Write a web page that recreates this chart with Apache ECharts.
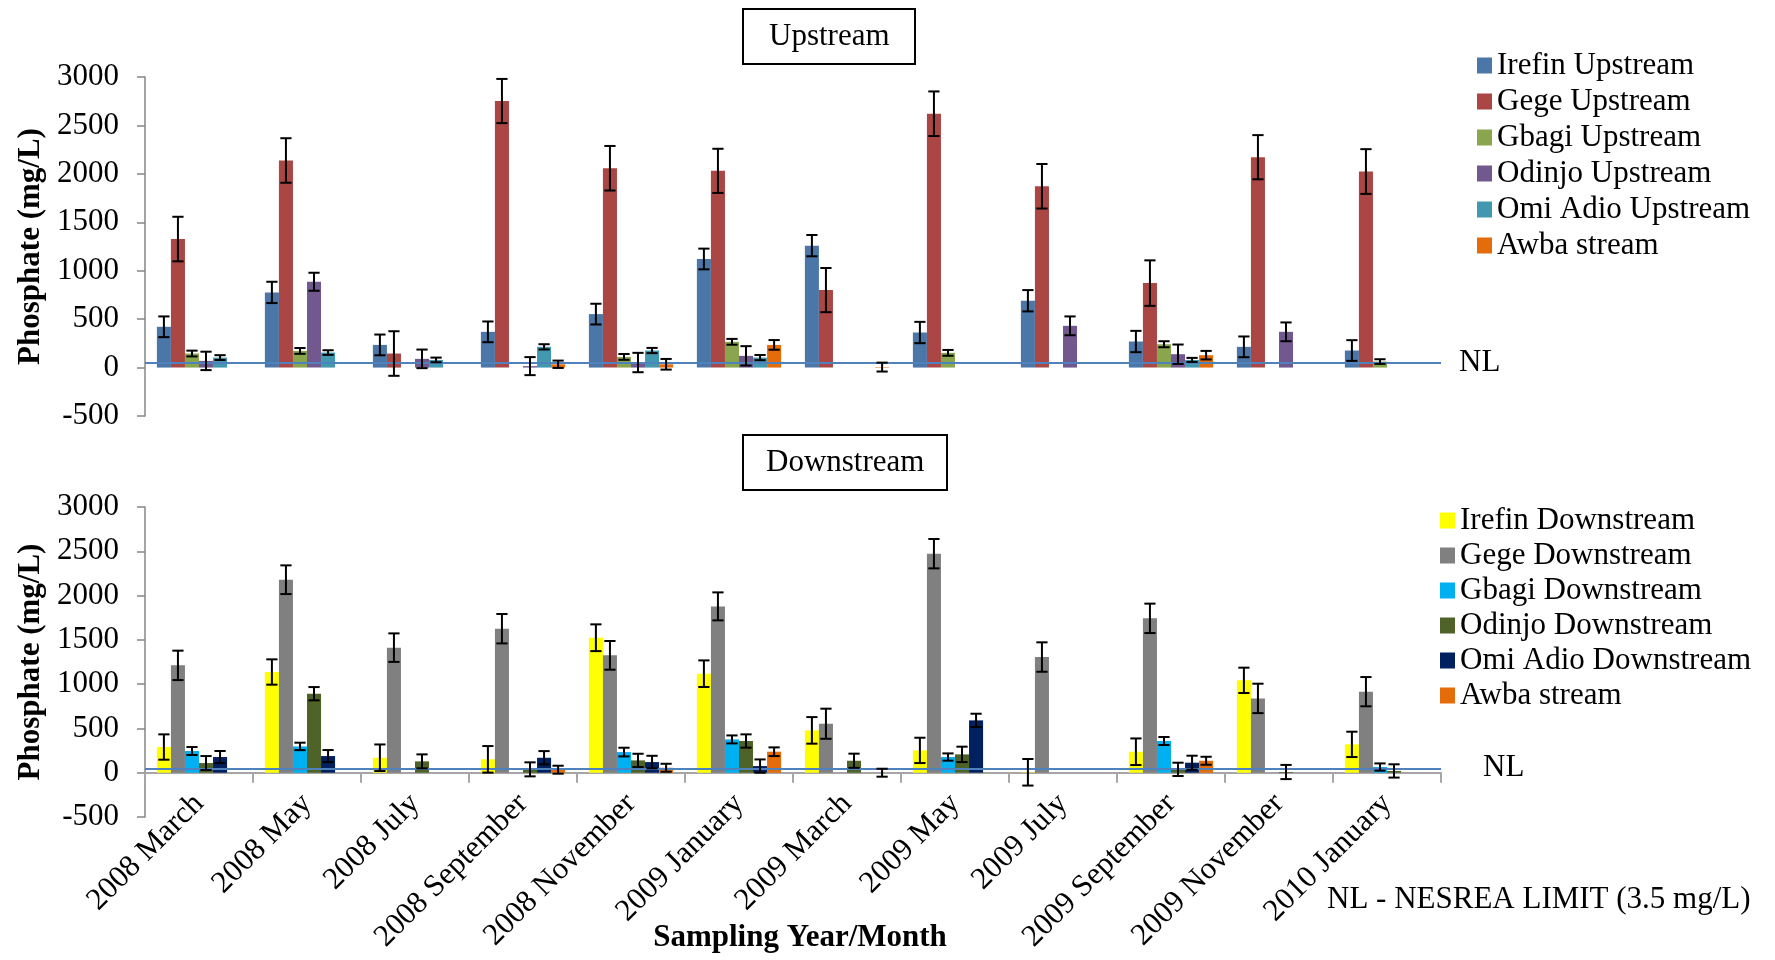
<!DOCTYPE html>
<html>
<head>
<meta charset="utf-8">
<script src="https://cdn.jsdelivr.net/npm/echarts/dist/echarts.min.js"></script>
<style>
html,body{margin:0;padding:0;background:#fff;}
#chart{width:1775px;height:960px;}
</style>
</head>
<body>
<div id="chart"></div>
<script>
const categories = ['2008 March','2008 May','2008 July','2008 September','2008 November','2009 January','2009 March','2009 May','2009 July','2009 September','2009 November','2010 January'];
const yTicks = [-500, 0, 500, 1000, 1500, 2000, 2500, 3000];
const nlValue = 50;

const upNames = ['Irefin Upstream','Gege Upstream','Gbagi Upstream','Odinjo Upstream','Omi Adio Upstream','Awba stream'];
const upIrefin = [421, 776, 234, 369, 552, 1121, 1259, 362, 690, 269, 214, 176];
const upIrefinErr = [107, 110, 107, 107, 107, 107, 110, 110, 110, 110, 107, 107];
const upGege = [1327, 2138, 145, 2752, 2058, 2031, 800, 2621, 1872, 872, 2172, 2024];
const upGegeErr = [230, 230, 230, 228, 230, 228, 228, 230, 230, 235, 228, 231];
const upGbagi = [145, 172, null, null, 110, 266, null, 152, null, 241, null, 62];
const upGbagiErr = [30, 30, null, null, 30, 30, null, 30, null, 31, null, 24];
const upOdinjo = [69, 886, 90, 15, 52, 121, null, null, 431, 138, 369, null];
const upOdinjoErr = [95, 93, 96, 93, 100, 100, null, null, 97, 100, 97, null];
const upOmi = [103, 155, 79, 214, 176, 103, null, null, null, 79, null, null];
const upOmiErr = [25, 24, 24, 27, 27, 27, null, null, null, 21, null, null];
const upAwba = [null, null, null, 34, 34, 234, 5, null, null, 128, null, null];
const upAwbaErr = [null, null, null, 38, 55, 50, 46, null, null, 44, null, null];

const downNames = ['Irefin Downstream','Gege Downstream','Gbagi Downstream','Odinjo Downstream','Omi Adio Downstream','Awba stream'];
const downIrefin = [290, 1137, 169, 151, 1524, 1118, 478, 252, 5, 237, 1043, 320];
const downIrefinErr = [143, 143, 150, 150, 151, 150, 150, 143, 150, 150, 143, 143];
const downGege = [1212, 2179, 1412, 1626, 1325, 1878, 553, 2473, 1306, 1743, 839, 915];
const downGegeErr = [166, 162, 161, 166, 162, 158, 170, 166, 166, 166, 166, 165];
const downGbagi = [245, 297, null, null, 233, 376, null, 177, null, 358, null, 64];
const downGbagiErr = [45, 42, null, null, 49, 45, null, 41, null, 45, null, 41];
const downOdinjo = [109, 892, 128, 38, 139, 358, 135, 207, null, 38, 8, 20];
const downOdinjoErr = [79, 75, 79, 79, 75, 75, 80, 87, null, 75, 80, 75];
const downOmi = [177, 188, null, 169, 120, 75, null, 591, null, 113, null, null];
const downOmiErr = [68, 68, null, 75, 71, 75, null, 75, null, 79, null, null];
const downAwba = [null, null, null, 34, 56, 237, 0, null, null, 135, null, null];
const downAwbaErr = [null, null, null, 45, 45, 49, 45, null, null, 45, null, null];

const upColors = ['#4A76A8', '#AA4643', '#89A54E', '#71588F', '#4198AF', '#E46C0A'];
const downColors = ['#FFFF00', '#808080', '#00B0F0', '#4F6228', '#002060', '#E46C0A'];

const FONT = 'Liberation Serif';
const GAP = 0.22;

const upVals = [upIrefin, upGege, upGbagi, upOdinjo, upOmi, upAwba];
const upErrs = [upIrefinErr, upGegeErr, upGbagiErr, upOdinjoErr, upOmiErr, upAwbaErr];
const downVals = [downIrefin, downGege, downGbagi, downOdinjo, downOmi, downAwba];
const downErrs = [downIrefinErr, downGegeErr, downGbagiErr, downOdinjoErr, downOmiErr, downAwbaErr];

function errRenderer(k) {
  return function (params, api) {
    const idx = api.value(0), val = api.value(1), err = api.value(2);
    const catW = api.size([1, 0])[0];
    const barW = catW * (1 - GAP) / 6;
    const cx = api.coord([idx, val])[0] + (k - 2.5) * barW;
    const yT = api.coord([idx, val + err])[1];
    const yB = api.coord([idx, val - err])[1];
    const hw = barW * 0.4;
    const st = { stroke: '#000', lineWidth: 2 };
    return {
      type: 'group',
      children: [
        { type: 'line', shape: { x1: cx, y1: yT, x2: cx, y2: yB }, style: st },
        { type: 'line', shape: { x1: cx - hw, y1: yT, x2: cx + hw, y2: yT }, style: st },
        { type: 'line', shape: { x1: cx - hw, y1: yB, x2: cx + hw, y2: yB }, style: st }
      ]
    };
  };
}

function buildSeries(names, vals, errs, colors, axisIdx) {
  const out = [];
  names.forEach((n, k) => {
    const s = {
      name: n, type: 'bar', xAxisIndex: axisIdx, yAxisIndex: axisIdx,
      data: vals[k], barGap: '0%', barCategoryGap: (GAP * 100) + '%',
      itemStyle: { color: colors[k] }, z: 2
    };
    if (k === 0) {
      s.markLine = {
        silent: true, symbol: 'none',
        lineStyle: { color: '#4F81BD', width: 2, type: 'solid' },
        label: { show: true, position: 'end', formatter: 'NL', fontFamily: FONT, fontSize: 31, color: '#000', distance: axisIdx === 0 ? 18 : 42 },
        data: [{ yAxis: nlValue }]
      };
    }
    out.push(s);
  });
  names.forEach((n, k) => {
    const d = [];
    vals[k].forEach((v, i) => { if (v !== null && errs[k][i] !== null) d.push([i, v, errs[k][i]]); });
    out.push({
      name: 'err_' + axisIdx + '_' + k, type: 'custom', xAxisIndex: axisIdx, yAxisIndex: axisIdx,
      renderItem: errRenderer(k), data: d, encode: { x: 0, y: 1 }, z: 5, silent: true
    });
  });
  return out;
}

const yAxisCommon = {
  type: 'value', min: yTicks[0], max: yTicks[yTicks.length - 1], interval: 500,
  axisLine: { show: true, lineStyle: { color: '#868686', width: 1.5 } },
  axisTick: { show: true, length: 8, lineStyle: { color: '#868686', width: 1.5 } },
  splitLine: { show: false },
  axisLabel: { fontFamily: FONT, fontSize: 31, color: '#000', margin: 26, formatter: (v) => String(v) },
  name: 'Phosphate (mg/L)', nameLocation: 'middle', nameGap: 94,
  nameTextStyle: { fontFamily: FONT, fontSize: 31, fontWeight: 'bold', color: '#000' }
};

const option = {
  animation: false,
  backgroundColor: '#fff',
  title: [
    { text: 'Upstream', left: 743, top: 9, borderColor: '#000', borderWidth: 2, padding: [12, 26, 12, 26],
      textStyle: { fontFamily: FONT, fontSize: 31, fontWeight: 'normal', color: '#000' } },
    { text: 'Downstream', left: 743, top: 435, borderColor: '#000', borderWidth: 2, padding: [12, 23, 12, 23],
      textStyle: { fontFamily: FONT, fontSize: 31, fontWeight: 'normal', color: '#000' } },
    { text: 'NL - NESREA LIMIT (3.5 mg/L)', left: 1327, top: 884, padding: 0,
      textStyle: { fontFamily: FONT, fontSize: 31, fontWeight: 'normal', color: '#000' } }
  ],
  legend: [
    { data: upNames, left: 1477, top: 50, orient: 'vertical', padding: 0, itemGap: 5, itemWidth: 15, itemHeight: 16,
      icon: 'rect', textStyle: { fontFamily: FONT, fontSize: 31, lineHeight: 31, color: '#000' }, selectedMode: false },
    { data: downNames, left: 1440, top: 505, orient: 'vertical', padding: 0, itemGap: 4, itemWidth: 15, itemHeight: 16,
      icon: 'rect', textStyle: { fontFamily: FONT, fontSize: 31, lineHeight: 31, color: '#000' }, selectedMode: false }
  ],
  grid: [
    { left: 145, width: 1296, top: 77, height: 339, containLabel: false, outerBoundsMode: 'none' },
    { left: 145, width: 1296, top: 507, height: 310, containLabel: false, outerBoundsMode: 'none' }
  ],
  xAxis: [
    { type: 'category', gridIndex: 0, data: categories,
      axisLine: { show: false }, axisTick: { show: false }, axisLabel: { show: false } },
    { type: 'category', gridIndex: 1, data: categories,
      axisLine: { show: true, onZero: true, lineStyle: { color: '#A6A6A6', width: 2 } },
      axisTick: { show: true, length: 10, lineStyle: { color: '#A6A6A6', width: 2 } },
      axisLabel: { rotate: 45, fontFamily: FONT, fontSize: 31, color: '#000', margin: -18, interval: 0 },
      name: 'Sampling Year/Month', nameLocation: 'middle', nameGap: 105, nameMoveOverlap: false,
      nameTextStyle: { fontFamily: FONT, fontSize: 31, fontWeight: 'bold', color: '#000', padding: [0, 0, 0, 14] } }
  ],
  yAxis: [
    Object.assign({ gridIndex: 0 }, yAxisCommon),
    Object.assign({ gridIndex: 1 }, yAxisCommon)
  ],
  series: buildSeries(upNames, upVals, upErrs, upColors, 0).concat(buildSeries(downNames, downVals, downErrs, downColors, 1))
};

const chart = echarts.init(document.getElementById('chart'));
chart.setOption(option);
</script>
</body>
</html>
